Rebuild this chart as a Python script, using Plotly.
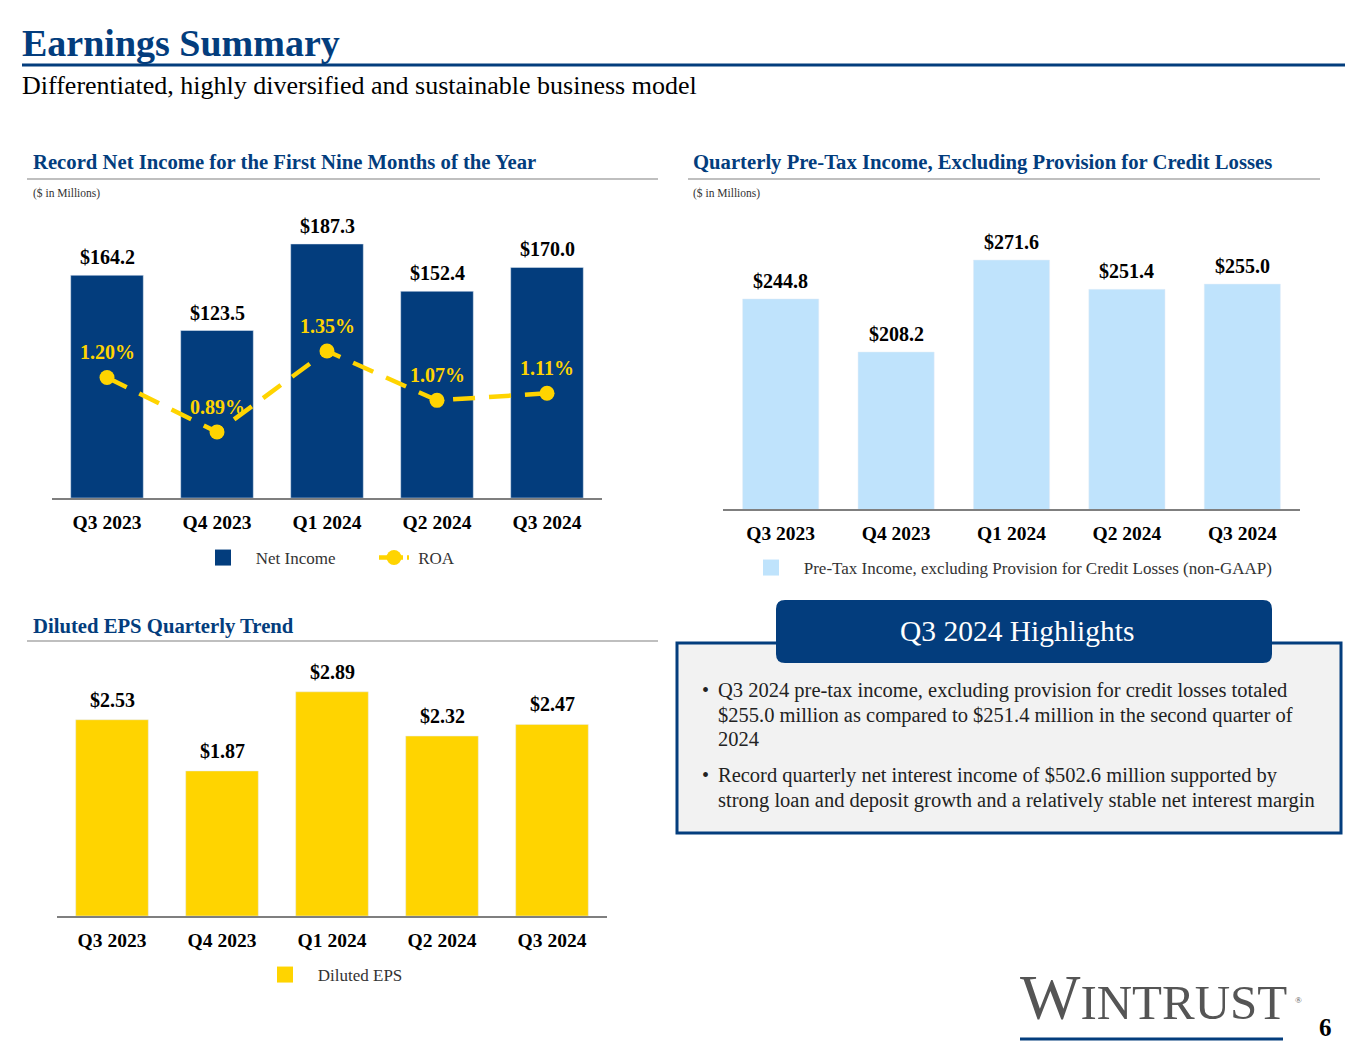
import plotly.graph_objects as go

# 분기 라벨
quarters = ["Q3 2023", "Q4 2023", "Q1 2024", "Q2 2024", "Q3 2024"]

# 순이익 / ROA
net_income = [164.2, 123.5, 187.3, 152.4, 170.0]
roa = [1.20, 0.89, 1.35, 1.07, 1.11]

# 충당금 제외 세전이익
pretax_income = [244.8, 208.2, 271.6, 251.4, 255.0]

# 희석 EPS
diluted_eps = [2.53, 1.87, 2.89, 2.32, 2.47]

bullet_lines = [
    ["Q3 2024 pre-tax income, excluding provision for credit losses totaled",
     "$255.0 million as compared to $251.4 million in the second quarter of",
     "2024"],
    ["Record quarterly net interest income of $502.6 million supported by",
     "strong loan and deposit growth and a relatively stable net interest margin"],
]

# 페이지 기본 여백(8px) 만큼 줄여서 그림
OFF = 8
W, H = 1365 - 2 * OFF, 1055 - 2 * OFF
NAVY = "#033d7d"
LIGHT = "#bfe3fc"
GOLD = "#ffd400"
SERIF = "Liberation Serif"
SP = "\u00a0"


def fx(x):
    return (x - OFF) / W


def fy(y):
    return 1 - (y - OFF) / H


fig = go.Figure()

fig.add_trace(go.Bar(x=quarters, y=net_income, name="Net Income", marker_color=NAVY,
                     xaxis="x", yaxis="y", showlegend=False))
fig.add_trace(go.Scatter(x=quarters, y=roa, name="ROA", mode="lines+markers",
                         line=dict(color=GOLD, width=4.5, dash="22px,14px"),
                         marker=dict(size=15, color=GOLD),
                         xaxis="x", yaxis="y2", showlegend=False))
fig.add_trace(go.Bar(x=quarters, y=pretax_income, marker_color=LIGHT,
                     xaxis="x3", yaxis="y3", showlegend=False))
fig.add_trace(go.Bar(x=quarters, y=diluted_eps, marker_color=GOLD,
                     xaxis="x4", yaxis="y4", showlegend=False))

# 범례용 트레이스 (큰 사각형 기호)
def legend_square(name, color, legend):
    fig.add_trace(go.Scatter(x=[None], y=[None], mode="markers", name=name, legend=legend,
                             marker=dict(symbol="square", size=17, color=color),
                             xaxis="x", yaxis="y"))


legend_square(SP * 3 + "Net Income", NAVY, "legend")
fig.add_trace(go.Scatter(x=[None], y=[None], mode="lines+markers", name=SP + "ROA", legend="legend",
                         line=dict(color=GOLD, width=4.5, dash="10px,4px"),
                         marker=dict(size=15, color=GOLD), xaxis="x", yaxis="y2"))
legend_square(SP * 3 + "Pre-Tax Income, excluding Provision for Credit Losses (non-GAAP)",
              LIGHT, "legend2")
legend_square(SP * 3 + "Diluted EPS", GOLD, "legend3")

annotations = []
lbl_font = dict(family=SERIF, size=20, color="black", weight="bold")
for q, v in zip(quarters, net_income):
    annotations.append(dict(x=q, y=v, xref="x", yref="y", text=f"${v:.1f}", showarrow=False,
                            yanchor="bottom", yshift=5, font=lbl_font))
for q, v in zip(quarters, roa):
    annotations.append(dict(x=q, y=v, xref="x", yref="y2", text=f"{v:.2f}%", showarrow=False,
                            yanchor="bottom", yshift=12,
                            font=dict(family=SERIF, size=20, color=GOLD, weight="bold")))
for q, v in zip(quarters, pretax_income):
    annotations.append(dict(x=q, y=v, xref="x3", yref="y3", text=f"${v:.1f}", showarrow=False,
                            yanchor="bottom", yshift=5, font=lbl_font))
for q, v in zip(quarters, diluted_eps):
    annotations.append(dict(x=q, y=v, xref="x4", yref="y4", text=f"${v:.2f}", showarrow=False,
                            yanchor="bottom", yshift=7, font=lbl_font))


def txt(x, y, text, size, color="black", bold=False, xanchor="left", yanchor="middle"):
    annotations.append(dict(x=fx(x), y=fy(y), xref="paper", yref="paper", text=text,
                            showarrow=False, xanchor=xanchor, yanchor=yanchor, align="left",
                            font=dict(family=SERIF, size=size, color=color,
                                      weight="bold" if bold else "normal")))


# 제목 / 부제목
txt(20, 43, "Earnings Summary", 38, NAVY, bold=True)
txt(20, 85, "Differentiated, highly diversified and sustainable business model", 26)

# 섹션 제목
txt(31, 162, "Record Net Income for the First Nine Months of the Year", 20.7, NAVY, bold=True)
txt(31, 193, "($ in Millions)", 11.5, "#333333")
txt(691, 162, "Quarterly Pre-Tax Income, Excluding Provision for Credit Losses", 20.7, NAVY, bold=True)
txt(691, 193, "($ in Millions)", 11.5, "#333333")
txt(31, 626, "Diluted EPS Quarterly Trend", 20.7, NAVY, bold=True)

# 하이라이트 박스 텍스트
txt(1017, 631, "Q3 2024 Highlights", 29.5, "white", xanchor="center")
line_y = [[690, 715, 739], [775, 800]]
for lines, ys in zip(bullet_lines, line_y):
    txt(700, ys[0], "•", 20, "#222222")
    for s, y in zip(lines, ys):
        txt(716, y, s, 20.5, "#222222")

# 로고 / 페이지 번호
annotations.append(dict(x=fx(1018), y=fy(1035), xref="paper", yref="paper", showarrow=False,
                        xanchor="left", yanchor="bottom",
                        text="<span style='font-size:64px'>W</span>INTRUST",
                        font=dict(family=SERIF, size=49, color="#555555")))
txt(1293, 1000, "®", 9, "#555555")
txt(1325, 1027, "6", 25, "black", bold=True, xanchor="center")

shapes = [
    dict(type="line", xref="paper", yref="paper", x0=fx(22), x1=fx(1345), y0=fy(65), y1=fy(65),
         line=dict(color=NAVY, width=3)),
    dict(type="line", xref="paper", yref="paper", x0=fx(27), x1=fx(658), y0=fy(179), y1=fy(179),
         line=dict(color="#bfbfbf", width=2)),
    dict(type="line", xref="paper", yref="paper", x0=fx(688), x1=fx(1320), y0=fy(179), y1=fy(179),
         line=dict(color="#bfbfbf", width=2)),
    dict(type="line", xref="paper", yref="paper", x0=fx(27), x1=fx(658), y0=fy(641), y1=fy(641),
         line=dict(color="#bfbfbf", width=2)),
    dict(type="rect", xref="paper", yref="paper", x0=fx(677), x1=fx(1341), y0=fy(833), y1=fy(643),
         fillcolor="#f2f2f2", line=dict(color=NAVY, width=3), layer="below"),
    dict(type="line", xref="paper", yref="paper", x0=fx(1020), x1=fx(1283), y0=fy(1039), y1=fy(1039),
         line=dict(color=NAVY, width=3)),
]

# 둥근 모서리 헤더 탭
x0, x1, y0, y1, r = 776, 1272, 600, 663, 9
path = (f"M {fx(x0 + r)},{fy(y0)} L {fx(x1 - r)},{fy(y0)} Q {fx(x1)},{fy(y0)} {fx(x1)},{fy(y0 + r)} "
        f"L {fx(x1)},{fy(y1 - r)} Q {fx(x1)},{fy(y1)} {fx(x1 - r)},{fy(y1)} "
        f"L {fx(x0 + r)},{fy(y1)} Q {fx(x0)},{fy(y1)} {fx(x0)},{fy(y1 - r)} "
        f"L {fx(x0)},{fy(y0 + r)} Q {fx(x0)},{fy(y0)} {fx(x0 + r)},{fy(y0)} Z")
shapes.append(dict(type="path", xref="paper", yref="paper", path=path, fillcolor=NAVY,
                   line=dict(width=0)))

tick_font = dict(family=SERIF, size=19.5, color="black", weight="bold")


def xax(left, right, anchor):
    return dict(domain=[fx(left), fx(right)], anchor=anchor, showline=True, linecolor="#7f7f7f",
                linewidth=1.5, ticks="", tickfont=tick_font, ticklabelstandoff=6,
                showgrid=False, fixedrange=True)


def yax(bottom, top, rng, anchor):
    return dict(domain=[fy(bottom), fy(top)], range=rng, anchor=anchor, visible=False,
                showgrid=False, zeroline=False, fixedrange=True)


leg_font = dict(family=SERIF, size=17, color="#333333")

fig.update_layout(
    width=W, height=H,
    margin=dict(l=0, r=0, t=0, b=0),
    plot_bgcolor="white", paper_bgcolor="white",
    xaxis=xax(52, 602, "y"),
    yaxis=yax(498, 230, [0, 197.6], "x"),
    yaxis2=dict(domain=[fy(498), fy(230)], range=[0.515, 2.038], overlaying="y", anchor="x",
                visible=False, showgrid=False, zeroline=False),
    xaxis3=xax(723, 1300, "y3"),
    yaxis3=yax(509, 240, [100, 285.4], "x3"),
    xaxis4=xax(57, 607, "y4"),
    yaxis4=yax(916, 660, [0, 3.30], "x4"),
    bargap=0.34,
    legend=dict(orientation="h", x=fx(203), y=fy(558), xanchor="left", yanchor="middle",
                font=leg_font, entrywidth=126, itemsizing="trace", bgcolor="rgba(0,0,0,0)"),
    legend2=dict(orientation="h", x=fx(751), y=fy(568), xanchor="left", yanchor="middle",
                 font=leg_font, itemsizing="trace", bgcolor="rgba(0,0,0,0)"),
    legend3=dict(orientation="h", x=fx(265), y=fy(975), xanchor="left", yanchor="middle",
                 font=leg_font, itemsizing="trace", bgcolor="rgba(0,0,0,0)"),
    annotations=annotations,
    shapes=shapes,
)

fig.write_html("out.html")
